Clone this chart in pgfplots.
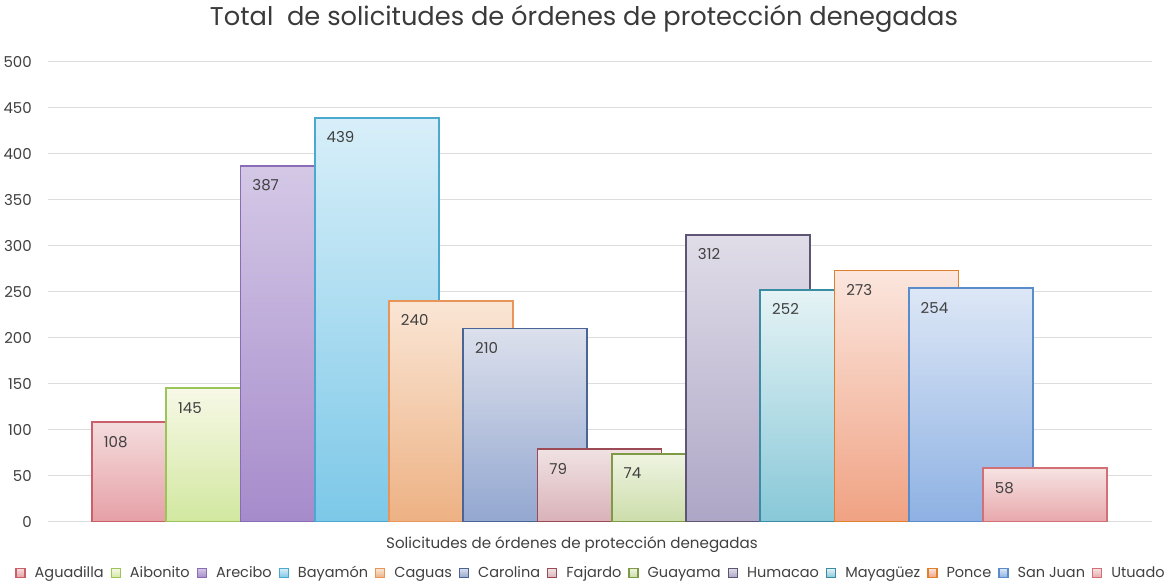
\documentclass[border=0pt]{standalone}
\usepackage{pgfplots}
\pgfplotsset{compat=1.18}
\usepackage{fontspec}
\setmainfont{Poppins}
\definecolor{txt}{HTML}{404040}
\definecolor{gridc}{HTML}{DDDDDD}
% edge / top / bottom
\definecolor{e1}{HTML}{C9606A}\definecolor{t1}{HTML}{F4DCDD}\definecolor{b1}{HTML}{E6A0A6}
\definecolor{e2}{HTML}{9BC45A}\definecolor{t2}{HTML}{F7F8E6}\definecolor{b2}{HTML}{D2E8A0}
\definecolor{e3}{HTML}{8A6BB5}\definecolor{t3}{HTML}{D4C8E6}\definecolor{b3}{HTML}{A68BCB}
\definecolor{e4}{HTML}{4BA8CF}\definecolor{t4}{HTML}{D8EFF9}\definecolor{b4}{HTML}{7CC8E8}
\definecolor{e5}{HTML}{E8955A}\definecolor{t5}{HTML}{FAE6D5}\definecolor{b5}{HTML}{EDB183}
\definecolor{e6}{HTML}{4A6595}\definecolor{t6}{HTML}{DCE0EC}\definecolor{b6}{HTML}{93A7D0}
\definecolor{e7}{HTML}{9C4A55}\definecolor{t7}{HTML}{F0E2E3}\definecolor{b7}{HTML}{D9B2B8}
\definecolor{e8}{HTML}{7E9A45}\definecolor{t8}{HTML}{EFF4E2}\definecolor{b8}{HTML}{CCDDAA}
\definecolor{e9}{HTML}{5E5574}\definecolor{t9}{HTML}{E0DDE8}\definecolor{b9}{HTML}{ADA6C6}
\definecolor{e10}{HTML}{3A8CA3}\definecolor{t10}{HTML}{E5F3F5}\definecolor{b10}{HTML}{88C8D8}
\definecolor{e11}{HTML}{E07F2C}\definecolor{t11}{HTML}{FBE6DE}\definecolor{b11}{HTML}{F0A283}
\definecolor{e12}{HTML}{5A8BCB}\definecolor{t12}{HTML}{DDE7F6}\definecolor{b12}{HTML}{8DB1E3}
\definecolor{e13}{HTML}{D27078}\definecolor{t13}{HTML}{F6E2E2}\definecolor{b13}{HTML}{E8A8AC}
\pgfplotsset{
  bb/.style n args={3}{fill=none, draw=#1, top color=#2, bottom color=#3, line width=1.8pt},
}
\begin{document}
\begin{tikzpicture}
\begin{axis}[
  name=ax,
  scale only axis,
  width=1104pt, height=460pt,
  xmin=-1.428, xmax=13.44,
  ymin=0, ymax=500,
  ytick={0,50,...,500},
  xtick=\empty,
  ymajorgrids,
  grid style={gridc, line width=0.9pt},
  axis line style={draw=none},
  major tick length=0pt,
  ybar, bar width=1.67,
  every axis plot/.append style={bar shift=0pt},
  every axis plot post/.append style={
    legend image code/.code={\draw[##1,/tikz/.cd,line width=1.3pt] (0pt,-4.5pt) rectangle (9pt,4.5pt);}},
  /pgf/number format/assume math mode=true,
  tick label style={font=\fontsize{15}{17}\selectfont, text=txt},
  yticklabel style={inner sep=0pt, xshift=-16pt},
  nodes near coords,
  every node near coord/.append style={anchor=base west, inner sep=0pt, xshift=-51pt, yshift=-25pt,
     font=\fontsize{15}{17}\selectfont, text=txt},
  title={Total\ \ de solicitudes de órdenes de protección denegadas},
  title style={at={(axis description cs:0.4855,1.0667)}, anchor=base, inner sep=0pt, yshift=0pt,
     font=\fontsize{25.7}{30}\selectfont, text=txt!90!black},
  xlabel={Solicitudes de órdenes de protección denegadas},
  xlabel style={at={(axis description cs:0.4746,-0.0593)}, anchor=base, inner sep=0pt,
     font=\fontsize{15.1}{17}\selectfont, text=txt},
  legend columns=13,
  legend style={at={(axis description cs:0.4914,-0.1115)}, anchor=center, draw=none, fill=none,
     inner sep=0pt, font=\fontsize{14.5}{17}\selectfont, text=txt,
     nodes={inner sep=1pt},
     /tikz/every even column/.append style={column sep=6pt},
     /tikz/every odd column/.append style={column sep=8pt}},
]
\addplot[bb={e1}{t1}{b1}] coordinates {(0,108)};
\addplot[bb={e2}{t2}{b2}] coordinates {(1,145)};
\addplot[bb={e3}{t3}{b3}] coordinates {(2,387)};
\addplot[bb={e4}{t4}{b4}] coordinates {(3,439)};
\addplot[bb={e5}{t5}{b5}] coordinates {(4,240)};
\addplot[bb={e6}{t6}{b6}] coordinates {(5,210)};
\addplot[bb={e7}{t7}{b7}] coordinates {(6,79)};
\addplot[bb={e8}{t8}{b8}] coordinates {(7,74)};
\addplot[bb={e9}{t9}{b9}] coordinates {(8,312)};
\addplot[bb={e10}{t10}{b10}] coordinates {(9,252)};
\addplot[bb={e11}{t11}{b11}] coordinates {(10,273)};
\addplot[bb={e12}{t12}{b12}] coordinates {(11,254)};
\addplot[bb={e13}{t13}{b13}] coordinates {(12,58)};
\legend{Aguadilla,Aibonito,Arecibo,Bayamón,Caguas,Carolina,Fajardo,Guayama,Humacao,Mayagüez,Ponce,San Juan,Utuado}
\end{axis}
\pgfresetboundingbox
\path[use as bounding box] ([xshift=-48pt,yshift=-64.3pt]ax.south west) rectangle ([xshift=19pt,yshift=61.7pt]ax.north east);
\end{tikzpicture}
\end{document}
